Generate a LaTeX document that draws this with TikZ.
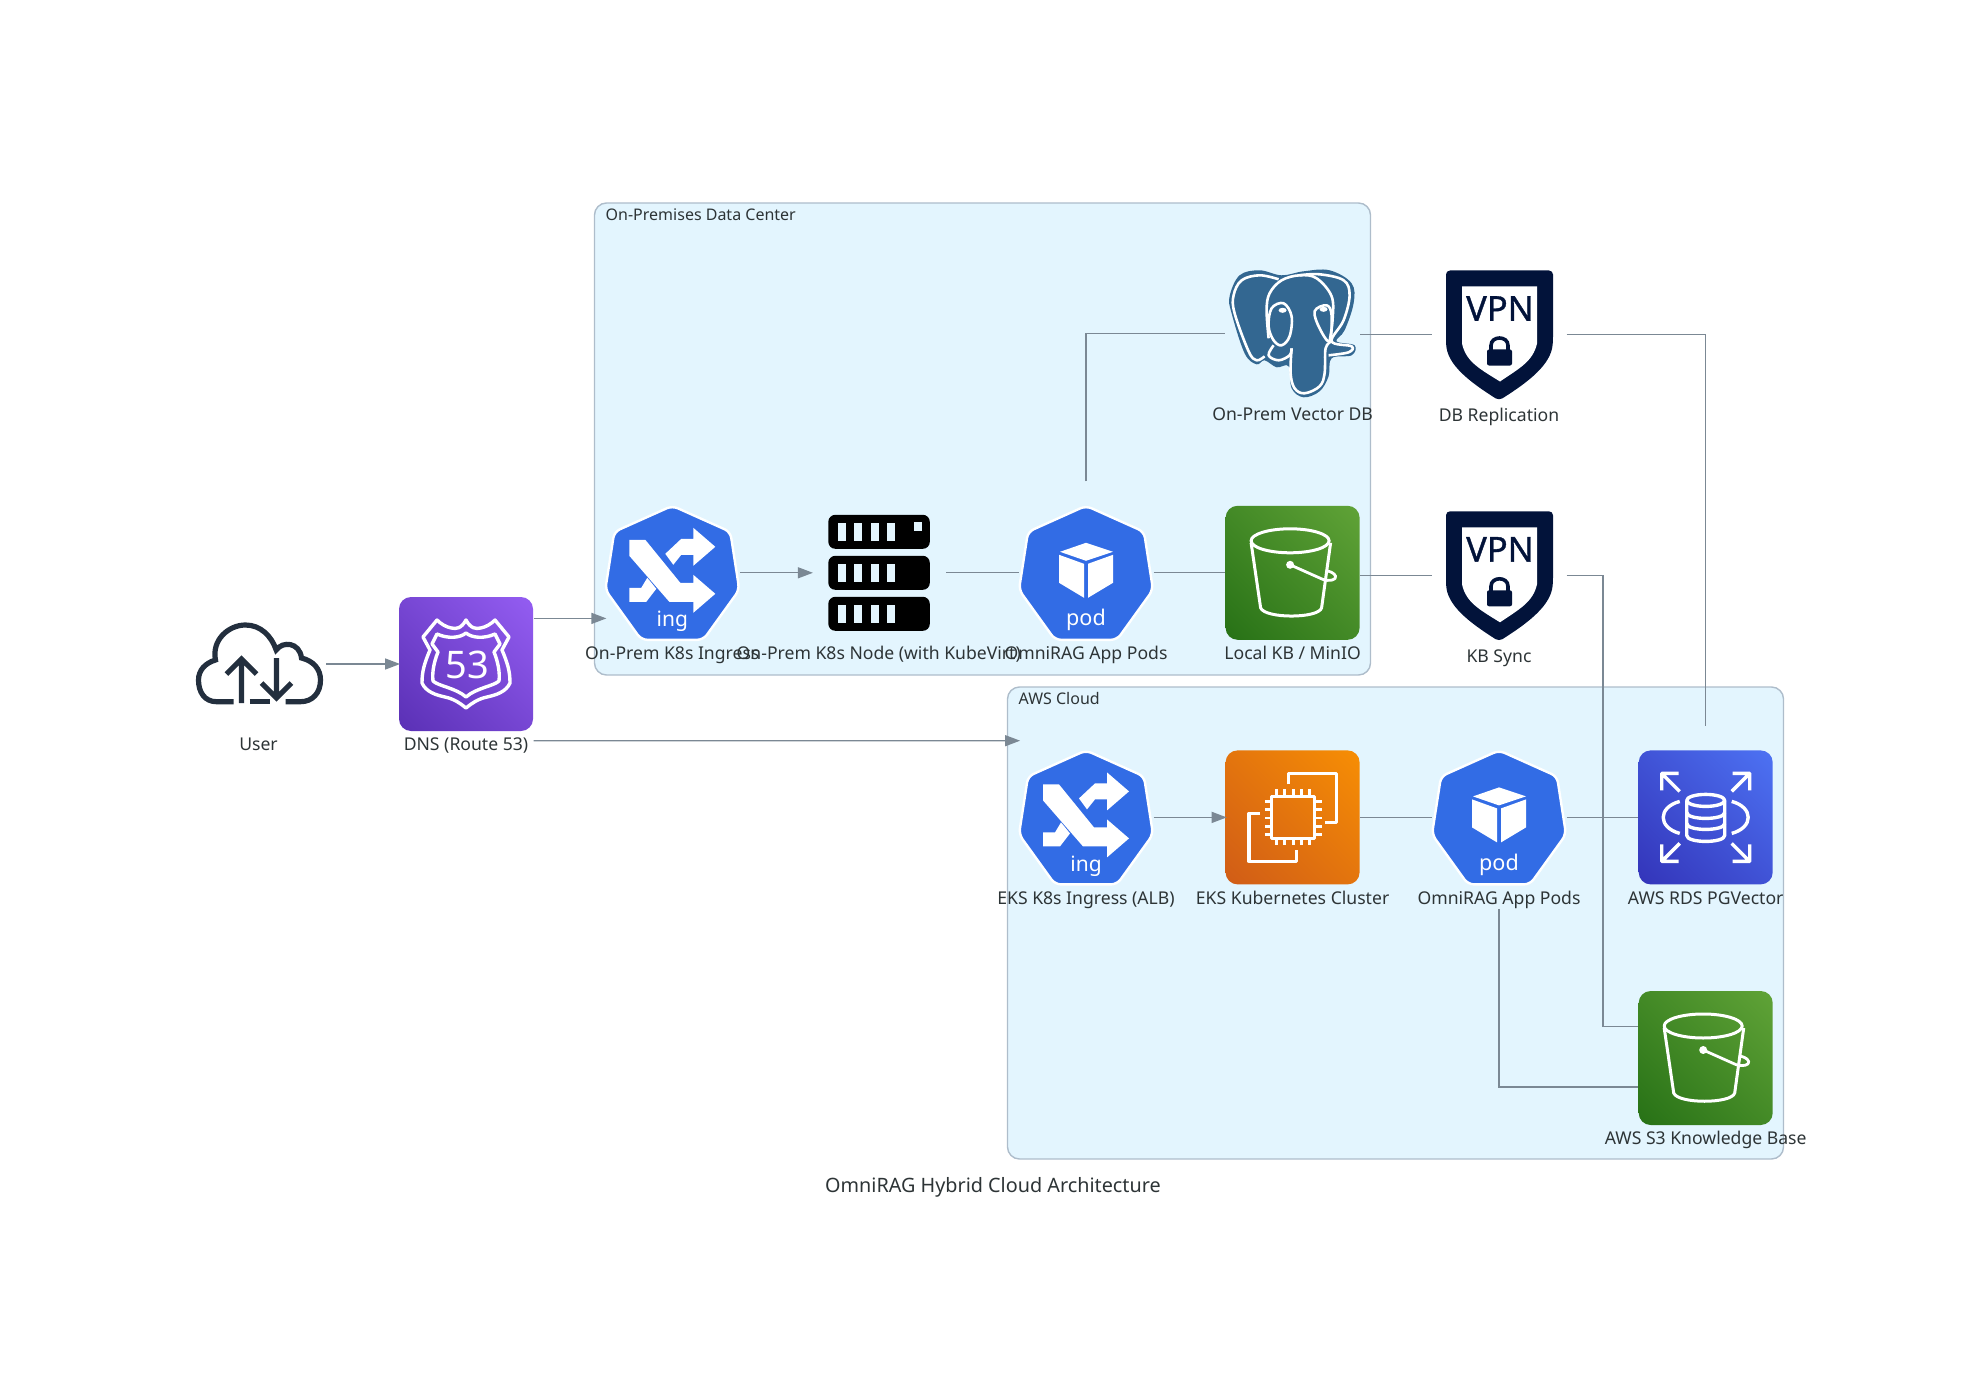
\documentclass[tikz,border=0pt]{standalone}
\usepackage{fontspec}
\setmainfont{Noto Sans}
\newfontfamily\vpnfont[FakeBold = 1]{Noto Sans}
\usetikzlibrary{arrows.meta, shadings}

\definecolor{inkgray}{HTML}{2D3436}
\definecolor{linegray}{HTML}{7B8894}
\definecolor{boxline}{HTML}{AEBDCB}
\definecolor{boxfill}{HTML}{E3F5FE}
\definecolor{kubeblue}{HTML}{326CE5}
\definecolor{pgblue}{HTML}{336791}
\definecolor{vpnnavy}{HTML}{02133A}
\definecolor{cloudink}{HTML}{232F3E}
\definecolor{purplelo}{HTML}{5A30B5}
\definecolor{purplehi}{HTML}{945DF2}
\definecolor{greenlo}{HTML}{277116}
\definecolor{greenhi}{HTML}{60A337}
\definecolor{orangelo}{HTML}{D05C17}
\definecolor{orangehi}{HTML}{F78E04}
\definecolor{bluelo}{HTML}{3334B9}
\definecolor{bluehi}{HTML}{4D72F3}

\tikzset{
	iconbox/.style = {minimum size = 67.5pt, inner sep = 0pt, outer sep = 0pt},
	lbl/.style = {anchor = north, inner sep = 0pt, text height = 9.5pt, text depth = 4pt, text = inkgray, font = \fontsize{8.8pt}{10pt}\selectfont},
	cluster/.style = {draw = boxline, fill = boxfill, line width = 0.7pt, rounded corners = 6pt, minimum width = 388pt, minimum height = 236pt},
	clbl/.style = {anchor = west, inner sep = 0pt, text = inkgray, font = \fontsize{8pt}{10pt}\selectfont},
	link/.style = {draw = linegray, line width = 0.65pt},
	flow/.style = {link, shorten >= -0.8pt, -{Triangle[length = 7.5pt, width = 5.5pt]}},
	tile/.style 2 args = {rounded corners = 6pt, lower left = #1, upper right = #2, lower right = #1!50!#2, upper left = #1!50!#2},
	glyph/.style = {draw = white, line width = 1.7pt, line join = round},
	pgline/.style = {draw = white, line width = 1.3pt, line join = round},
	pics/tilebase/.style 2 args = {code = {
		\shade [tile = {#1}{#2}] (-67, -67) rectangle (67, 67);
	}},
	pics/heptagon/.style = {code = {
		\draw [fill = kubeblue, draw = white, line width = 1.2pt, rounded corners = 3pt] (0, -67) -- (58, -41) -- (67, 17) -- (31, 67) -- (-31, 67) -- (-67, 17) -- (-58, -41) -- cycle;
	}},
	pics/cloudicon/.style = {code = {
		\draw [draw = cloudink, line width = 2.6pt] (-25, 37.7) -- (-42, 37.7) .. controls (-54, 37.7) and (-60, 28) .. (-60, 16) .. controls (-60, 6) and (-53, -1) .. (-43, -4) .. controls (-47, -24) and (-30, -39) .. (-13, -39) .. controls (2, -39) and (13, -28) .. (17.7, -14) .. controls (24, -23) and (41, -22) .. (43, -6) .. controls (55, -3) and (62, 5) .. (62, 16) .. controls (62, 29) and (54, 37.7) .. (42, 37.7) -- (27, 37.7);
		\draw [draw = cloudink, line width = 2.6pt] (-17, 39) -- (-17, -5) (-32, 10) -- (-17, -5) -- (-2, 10);
		\draw [draw = cloudink, line width = 2.6pt] (18, -6) -- (18, 34) (3, 19) -- (18, 34) -- (33, 19);
		\draw [draw = cloudink, line width = 2.6pt] (-9, 37.7) -- (11, 37.7);
	}},
	pics/routeicon/.style = {code = {
		\pic {tilebase = {purplelo}{purplehi}};
		\draw [glyph] (0, -44) .. controls (5, -35) and (10, -35) .. (14.7, -36) .. controls (20, -37) and (25, -40) .. (29, -44) -- (43, -27) -- (36, -14) .. controls (42, 0) and (44, 8) .. (44, 19) .. controls (40, 28) and (30, 31) .. (21, 33) .. controls (12, 35) and (6, 39) .. (0, 44) .. controls (-6, 39) and (-12, 35) .. (-21, 33) .. controls (-30, 31) and (-40, 28) .. (-44, 19) .. controls (-44, 8) and (-42, 0) .. (-36, -14) -- (-43, -27) -- (-29, -44) .. controls (-25, -40) and (-20, -37) .. (-14.7, -36) .. controls (-10, -35) and (-5, -35) .. cycle;
		\draw [glyph] (0, -31) .. controls (6, -26) and (18, -25) .. (29, -30) -- (34, -20) -- (28, -12) .. controls (32, -2) and (34, 8) .. (33, 17) .. controls (28, 22) and (10, 24) .. (0, 33) .. controls (-10, 24) and (-28, 22) .. (-33, 17) .. controls (-34, 8) and (-32, -2) .. (-28, -12) -- (-34, -20) -- (-29, -30) .. controls (-18, -25) and (-6, -26) .. cycle;
		\node [text = white, inner sep = 0pt, font = \fontsize{19pt}{19pt}\selectfont] (roadnum) at (1, 1) {53};
	}},
	pics/ingicon/.style = {code = {
		\pic {heptagon};
		\fill [white] (-43, -33) -- (-27, -33) -- (8, 10) -- (21, 10) -- (21, 2) -- (43, 21) -- (21, 40) -- (21, 29) -- (-3, 29) -- (-43, -17) -- cycle;
		\fill [white] (-7, -19) -- (9, -34) -- (21, -34) -- (21, -45) -- (43, -26) -- (21, -7) -- (21, -18) -- (9, -18) -- (1, -8) -- cycle;
		\fill [white] (-43, 15) -- (-31, 15) -- (-25, 5) -- (-16, 16) -- (-26, 29) -- (-43, 29) -- cycle;
		\node [text = white, inner sep = 0pt, font = \fontsize{10.5pt}{10pt}\selectfont] (ingtag) at (0, 48.5) {ing};
	}},
	pics/podicon/.style = {code = {
		\pic {heptagon};
		\fill [white] (0, -30) -- (27, -21) -- (0, -12) -- (-26, -21) -- cycle;
		\fill [white] (-27, -18) -- (-2, -9) -- (-2, 25) -- (-27, 10) -- cycle;
		\fill [white] (2, -9) -- (27, -18) -- (27, 10) -- (2, 25) -- cycle;
		\node [text = white, inner sep = 0pt, font = \fontsize{10.8pt}{10pt}\selectfont] (podtag) at (0, 47.5) {pod};
	}},
	pics/servericon/.style = {code = {
		\foreach \rack in {-41, 0, 41} {
			\fill [black, rounded corners = 3.5pt] (-50.5, \rack - 17) rectangle (51, \rack + 17);
			\foreach \slot in {-41, -25, -8, 8}
				\fill [boxfill] (\slot, \rack - 9) rectangle (\slot + 8, \rack + 9);
		}
		\fill [boxfill] (35, -51) rectangle (43, -42);
	}},
	pics/bucketicon/.style = {code = {
		\draw [glyph, line width = 1.5pt] (-41.5, -30) -- (-32, 35) .. controls (-28, 46) and (26, 46) .. (29, 35) -- (38, -30);
		\draw [glyph, line width = 1.5pt] (-2.5, -32) ellipse [x radius = 39, y radius = 12];
		\fill [white] (-2.5, -8) circle [radius = 4];
		\draw [glyph, line width = 1.4pt] (-2.5, -8) -- (30, 6.5) .. controls (37, 9) and (44, 7) .. (43, 3.5) .. controls (42, 0) and (36, -2) .. (33, -2);
	}},
	pics/localicon/.style = {code = {
		\pic {tilebase = {greenlo}{greenhi}};
		\pic {bucketicon};
	}},
	pics/chipicon/.style = {code = {
		\pic {tilebase = {orangelo}{orangehi}};
		\draw [glyph] (-21, -21) rectangle (22, 21);
		\foreach \pin in {-16, -8, 0.5, 9, 17} {
			\draw [glyph, line width = 1.4pt] (\pin, -21) -- (\pin, -28) (\pin, 21) -- (\pin, 28) (-21, \pin) -- (-28, \pin) (22, \pin) -- (29, \pin);
		}
		\draw [glyph] (-4, -33) -- (-4, -44) -- (44, -44) -- (44, 5) -- (32.5, 5);
		\draw [glyph] (-32.5, -4) -- (-43.5, -4) -- (-43.5, 44) -- (4, 44) -- (4, 33);
	}},
	pics/rdsicon/.style = {code = {
		\pic {tilebase = {bluelo}{bluehi}};
		\draw [glyph] (-19, -17) -- (-19, 18) .. controls (-19, 26) and (19, 26) .. (19, 18) -- (19, -17);
		\draw [glyph] (0, -17) ellipse [x radius = 19, y radius = 6];
		\draw [glyph] (-19, -5) .. controls (-19, 3) and (19, 3) .. (19, -5);
		\draw [glyph] (-19, 6) .. controls (-19, 14) and (19, 14) .. (19, 6);
		\draw [glyph] (-26, -16) .. controls (-48, -10) and (-48, 10) .. (-26, 16);
		\draw [glyph] (26, -16) .. controls (48, -10) and (48, 10) .. (26, 16);
		\foreach \sx/\sy in {-1/-1, 1/-1, -1/1, 1/1}
			\draw [glyph] (\sx * 27, \sy * 44) -- (\sx * 44, \sy * 44) -- (\sx * 44, \sy * 27) (\sx * 44, \sy * 44) -- (\sx * 26, \sy * 26);
	}},
	pics/vpnicon/.style = {code = {
		\fill [vpnnavy, rounded corners = 2pt] (-53, -64) -- (54, -64) -- (54, 6) .. controls (52, 30) and (30, 47) .. (0, 66) .. controls (-30, 47) and (-52, 30) .. (-53, 6) -- cycle;
		\fill [white] (-37, -48) -- (38, -48) -- (38, 9) .. controls (34, 27) and (20, 34) .. (1, 47) .. controls (-20, 34) and (-33, 27) .. (-37, 9) -- cycle;
		\node [text = vpnnavy, inner sep = 0pt, font = \vpnfont\fontsize{17.2pt}{17pt}\selectfont] (vpntag) at (1, -26) {VPN};
		\fill [vpnnavy, rounded corners = 1pt] (-12, 15) rectangle (13, 31);
		\draw [draw = vpnnavy, line width = 1.8pt] (-8, 16) -- (-8, 11) .. controls (-8, 1) and (9, 1) .. (9, 11) -- (9, 16);
	}},
	pics/pgicon/.style = {code = {
		\fill [pgblue] plot [smooth cycle, tension = 0.6] coordinates {(-63, -37) (-53, -58) (-33, -63) (-11, -58) (11, -62) (37, -63) (59, -50) (61, -30) (52, -3) (44, 8) (62, 12) (59, 22) (39, 25) (36, 43) (27, 58) (11, 64) (-1, 55) (-4, 33) (-16, 34) (-28, 27) (-36, 31) (-48, 20) (-61, -20)};
		\draw [pgline] plot [smooth, tension = 0.6] coordinates {(-28, 23) (-36, 27) (-44, 18) (-58, -20) (-59, -38) (-51, -53) (-33, -58) (-14, -54)};
		\draw [pgline] plot [smooth, tension = 0.6] coordinates {(-24, 5) (-26, -23) (-23, -40) (-11, -53) (7, -58) (24, -55) (39, -37) (40, -14) (37, 8)};
		\draw [pgline] plot [smooth, tension = 0.6] coordinates {(7, -58) (27, -59) (51, -53) (57, -38) (51, -13) (39, 8) (59, 13) (56, 19) (36, 22)};
		\draw [pgline] plot [smooth, tension = 0.6] coordinates {(-1, 15) (-2, 40) (2, 55) (12, 60) (27, 53) (32, 40) (33, 15) (39, 8)};
		\draw [pgline] plot [smooth cycle, tension = 0.6] coordinates {(-21, -25) (-9, -30) (-1, -17) (-3, 3) (-11, 12) (-19, 7) (-24, -7)};
		\draw [pgline] plot [smooth, tension = 0.6] coordinates {(-19, 12) (-24, 22) (-14, 27) (-3, 22) (-1, 15)};
		\draw [pgline] plot [smooth cycle, tension = 0.6] coordinates {(22, -22) (34, -28) (39, -18) (37, 8) (27, -5)};
		\fill [white] (-10, -23) ellipse [x radius = 4, y radius = 2.5];
		\fill [white] (31, -24) ellipse [x radius = 4, y radius = 2.5];
	}},
}

\begin{document}
\begin{tikzpicture}[x = 0.5pt, y = -0.5pt, > = latex]

	\useasboundingbox (0, 0) rectangle (1987, 1396);

	% Clusters

	\node [cluster] (onprem) at (982.5, 439) {};
	\node [cluster] (aws) at (1395.5, 923) {};
	\node [clbl] (onpremlbl) at ([shift = {(11.5, 12.4)}] onprem.north west) {On-Premises Data Center};
	\node [clbl] (awslbl) at ([shift = {(11.5, 12.4)}] aws.north west) {AWS Cloud};

	% Icons with their captions

	\foreach \id/\x/\y/\ic/\txt in {
		user/258.5/664/cloudicon/User,
		dns/466/664/routeicon/DNS (Route 53),
		ingress/672.3/572.8/ingicon/On-Prem K8s Ingress,
		kubenode/878.8/572.8/servericon/On-Prem K8s Node (with KubeVirt),
		pods/1086/572.8/podicon/OmniRAG App Pods,
		localkb/1292.6/572.8/localicon/{Local KB / MinIO},
		vectordb/1292.6/333.3/pgicon/On-Prem Vector DB,
		dbsync/1499/334.5/vpnicon/DB Replication,
		kbsync/1499/575.3/vpnicon/KB Sync,
		eksingress/1086/817.4/ingicon/EKS K8s Ingress (ALB),
		eks/1292.6/817.4/chipicon/EKS Kubernetes Cluster,
		ekspods/1499/817.4/podicon/OmniRAG App Pods,
		rds/1705.7/817.4/rdsicon/AWS RDS PGVector,
		sthree/1705.7/1058/localicon/AWS S3 Knowledge Base} {
		\node [iconbox] (\id) at (\x, \y) {};
		\pic at (\id) {\ic};
		\node [lbl] (\id lbl) at (\id.south) {\txt};
	}

	% Connectors

	\draw [flow] (user.east) -- (dns.west);
	\draw [flow] ([yshift = 22.8pt] dns.east) -- ([yshift = -22.8pt] ingress.west);
	\draw [flow] ([yshift = -38.35pt] dns.east) -- ([yshift = 38.35pt] eksingress.west);
	\draw [flow] (ingress.east) -- (kubenode.west);
	\draw [link] (kubenode.east) -- (pods.west);
	\draw [link] (pods.east) -- (localkb.west);
	\draw [link, shorten <= 12pt] (pods.north) |- (vectordb.west);
	\draw [link] (vectordb.east |- dbsync.west) -- (dbsync.west);
	\draw [link] (localkb.east |- kbsync.west) -- (kbsync.west);
	\draw [link, shorten >= 12pt] (dbsync.east) -| (rds.north);
	\draw [link] (kbsync.east) -- ++(36.5, 0) |- ([yshift = 15.8pt] sthree.west);
	\draw [flow] (eksingress.east) -- (eks.west);
	\draw [link] (eks.east) -- (ekspods.west);
	\draw [link] (ekspods.east) -- (rds.west);
	\draw [link, shorten <= 12pt] (ekspods.south) |- ([yshift = -14.5pt] sthree.west);

	% Title

	\node [inner sep = 0pt, text = inkgray, font = \fontsize{9.9pt}{12pt}\selectfont] (title) at (993, 1187.5) {OmniRAG Hybrid Cloud Architecture};

\end{tikzpicture}
\end{document}
